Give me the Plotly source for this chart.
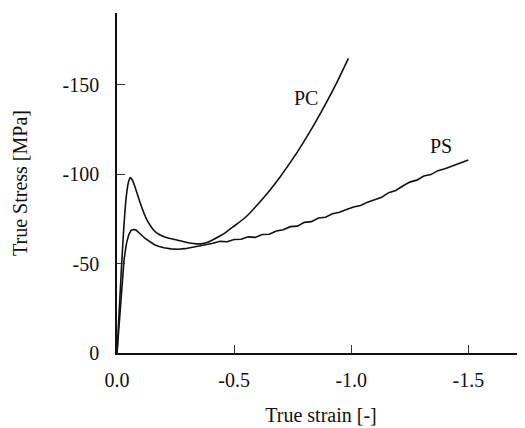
import plotly.graph_objects as go

# PC curve (true strain, true stress)
pc_strain = [0, -0.01, -0.02, -0.03, -0.04, -0.05, -0.057, -0.065, -0.075, -0.09, -0.10,
             -0.114, -0.13, -0.156, -0.18, -0.21, -0.256, -0.30, -0.33, -0.356, -0.39,
             -0.42, -0.46, -0.497, -0.55, -0.611, -0.65, -0.697, -0.74, -0.782, -0.825,
             -0.853, -0.896, -0.94, -0.988]
pc_stress = [0, -25, -50, -72, -88, -96, -98, -96.8, -93.5, -87.5, -83.5,
             -78.5, -73.8, -68.7, -66.2, -64.5, -63.1, -61.8, -61.1, -61.0, -62.0,
             -64.0, -67.0, -70.6, -76.0, -84.5, -90.5, -98.5, -106.5, -114.8, -124.0,
             -130.3, -140.5, -151.5, -164.6]

# PS curve
ps_strain = [0, -0.01, -0.02, -0.03, -0.04, -0.05, -0.06, -0.07, -0.08, -0.09, -0.10,
             -0.12, -0.14, -0.16, -0.18, -0.20, -0.23, -0.26, -0.29, -0.32, -0.35, -0.38,
             -0.41, -0.44, -0.47, -0.50, -0.53, -0.56, -0.59, -0.62, -0.65, -0.68,
             -0.71, -0.74, -0.77, -0.80, -0.83, -0.86, -0.89, -0.92, -0.95, -0.98,
             -1.01, -1.04, -1.07, -1.10, -1.13, -1.16, -1.19, -1.22, -1.25, -1.28,
             -1.31, -1.34, -1.37, -1.40, -1.43, -1.46, -1.50]
ps_stress = [0, -18, -36, -52, -61, -66, -68.5, -69, -68.8, -67.8, -66.5,
             -64, -62, -60.5, -59.5, -58.8, -58.2, -58, -58.3, -59, -59.8, -60.8,
             -61.3, -62.4, -62.2, -63.4, -63.6, -64.9, -64.6, -66.2, -66.4, -68.2,
             -68.9, -70.6, -70.9, -73.0, -73.4, -75.4, -75.9, -77.8, -78.6, -80.2,
             -81.6, -82.4, -84.3, -85.6, -87.0, -89.6, -90.8, -93.3, -95.5, -96.6,
             -98.9, -99.7, -101.9, -103.0, -104.6, -105.9, -107.8]

x_ticks = [0, -0.5, -1.0, -1.5]
x_tick_labels = ["0.0", "-0.5", "-1.0", "-1.5"]
y_ticks = [0, -50, -100, -150]
y_tick_labels = ["0", "-50", "-100", "-150"]

labels = ["PC", "PS"]
label_x = [-0.805, -1.384]
label_y = [-142.5, -115.5]

FONT = "Liberation Serif, Times New Roman, serif"
line = dict(color="#111111", width=1.6)

fig = go.Figure()
fig.add_trace(go.Scatter(x=pc_strain, y=pc_stress, mode="lines", line=line,
                         line_shape="spline", line_smoothing=0.6,
                         name="PC", showlegend=False))
fig.add_trace(go.Scatter(x=ps_strain, y=ps_stress, mode="lines", line=line,
                         name="PS", showlegend=False))

for t, xx, yy in zip(labels, label_x, label_y):
    fig.add_annotation(x=xx, y=yy, text=t, showarrow=False,
                       font=dict(family=FONT, size=20, color="#111111"))

fig.update_layout(
    width=517, height=420,
    margin=dict(l=109, r=0, t=5, b=75),
    paper_bgcolor="white", plot_bgcolor="white",
    font=dict(family=FONT, size=20, color="#111111"),
    xaxis=dict(range=[0, -1.742], tickvals=x_ticks, ticktext=x_tick_labels,
               ticks="inside", ticklen=8, tickwidth=1, tickcolor="#333",
               showline=True, linecolor="#111111", linewidth=1.6,
               showgrid=False, zeroline=False, ticklabelstandoff=8,
               automargin=False,
               title=dict(text="True strain [-]", standoff=18,
                          font=dict(family=FONT, size=20))),
    yaxis=dict(range=[0, -190], tickvals=y_ticks, ticktext=y_tick_labels,
               ticks="inside", ticklen=8, tickwidth=1, tickcolor="#333",
               showline=True, linecolor="#111111", linewidth=1.6,
               showgrid=False, zeroline=False, ticklabelstandoff=12,
               automargin=False,
               title=dict(text="True Stress [MPa]", standoff=30,
                          font=dict(family=FONT, size=20))),
)

fig.write_html("out.html")
